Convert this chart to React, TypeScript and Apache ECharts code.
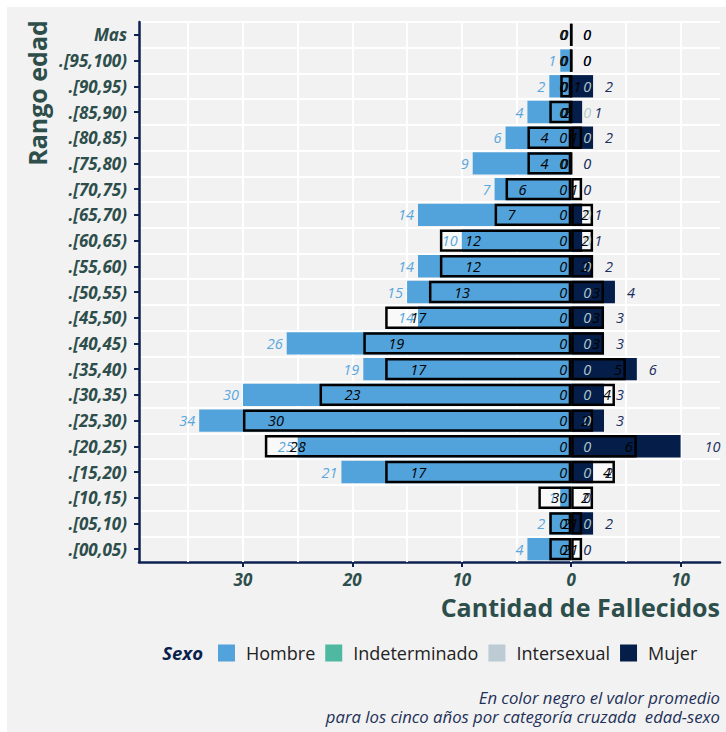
import React, { useEffect, useRef } from "react";
import * as echarts from "echarts";

// Categories from bottom to top
const categories = [
  ".[00,05)", ".[05,10)", ".[10,15)", ".[15,20)", ".[20,25)", ".[25,30)", ".[30,35)",
  ".[35,40)", ".[40,45)", ".[45,50)", ".[50,55)", ".[55,60)", ".[60,65)", ".[65,70)",
  ".[70,75)", ".[75,80)", ".[80,85)", ".[85,90)", ".[90,95)", ".[95,100)", "Mas",
];
const hombre = [4, 2, 1, 21, 25, 34, 30, 19, 26, 14, 15, 14, 10, 14, 7, 9, 6, 4, 2, 1, 0];
const hombrePromedio = [2, 2, 3, 17, 28, 30, 23, 17, 19, 17, 13, 12, 12, 7, 6, 4, 4, 2, 1, 0, 0];
const mujer = [0, 2, 0, 2, 10, 3, 3, 6, 3, 3, 4, 2, 1, 1, 0, 0, 2, 1, 2, 0, 0];
const mujerPromedio = [1, 1, 2, 4, 6, 2, 4, 5, 3, 3, 3, 2, 2, 2, 1, 0, 1, 0, 0, 0, 0];
const indeterminado = [0, 0, 0, 0, 0, 0, 0, 0, 0, 0, 0, 0, 0, 0, 0, 0, 0, 0, 0, 0, 0];
const intersexual = [0, 0, 0, 0, 0, 0, 0, 0, 0, 0, 0, 0, 0, 0, 0, 0, 0, 0, 0, 0, 0];
const intersexualPromedio = [0, 0, 0, 0, 0, 0, 0, 0, 0, 0, 0, 0, 0, 0, 0, 0, 0, 0, 0, 0, 0];

const legendNames = ["Hombre", "Indeterminado", "Intersexual", "Mujer"];
const xTickValues = [-30, -20, -10, 0, 10];
const xGridValues = [-35, -30, -25, -20, -15, -10, -5, 0, 5, 10];
const X_MIN = -39.5;
const X_MAX = 13.6;

const C_HOMBRE = "#52a3db";
const C_INDET = "#4fb8a0";
const C_INTER = "#bccbd4";
const C_MUJER = "#041e49";
const C_AXIS = "#0d2150";
const C_TEXT = "#2d4e4b";
const FONT = "'Open Sans', Roboto, sans-serif";

const labelBase = {
  show: true,
  fontSize: 14.5,
  fontStyle: "italic" as const,
  fontFamily: FONT,
};

const absFmt = (p: any) => String(Math.abs(typeof p.value === "object" ? p.value.value : p.value));

export default function App() {
  const ref = useRef<HTMLDivElement>(null);

  useEffect(() => {
    if (!ref.current) return;
    const chart = echarts.init(ref.current, undefined, { renderer: "svg" });

    const common = {
      type: "bar" as const,
      barWidth: "87%",
      barGap: "-100%",
      animation: false,
    };

    const option: any = {
      animation: false,
      backgroundColor: "#f2f2f2",
      grid: { left: 132, right: 6, top: 15, bottom: 170, containLabel: false },
      legend: {
        data: legendNames,
        left: 206,
        top: 632,
        icon: "rect",
        itemWidth: 17,
        itemHeight: 17,
        itemGap: 10,
        selectedMode: false,
        textStyle: {
          fontSize: 18,
          color: "#222",
          fontFamily: FONT,
          padding: [0, 0, 0, 6],
        },
      },
      xAxis: {
        type: "value",
        min: X_MIN,
        max: X_MAX,
        splitLine: { show: false },
        axisLine: { show: true, onZero: false, lineStyle: { color: C_AXIS, width: 2.5 } },
        axisTick: {
          show: true,
          customValues: xTickValues,
          length: 5,
          lineStyle: { color: C_AXIS, width: 2 },
        },
        axisLabel: {
          customValues: xTickValues,
          formatter: (v: number) => String(Math.abs(v)),
          fontSize: 17,
          fontWeight: "bold",
          fontStyle: "italic",
          fontFamily: FONT,
          color: C_TEXT,
          margin: 9,
        },
      },
      yAxis: {
        type: "category",
        data: categories,
        boundaryGap: true,
        axisLine: { show: true, onZero: false, lineStyle: { color: C_AXIS, width: 2.5 } },
        axisTick: { show: true, length: 5, alignWithLabel: true, lineStyle: { color: C_AXIS, width: 2 } },
        axisLabel: {
          fontSize: 17,
          fontWeight: "bold",
          fontStyle: "italic",
          fontFamily: FONT,
          color: C_TEXT,
          margin: 12,
        },
        splitLine: { show: true, lineStyle: { color: "#ffffff", width: 2 } },
      },
      series: [
        {
          ...common,
          name: "fondoPromH",
          silent: true,
          data: hombrePromedio.map((v) => -v),
          itemStyle: { color: "rgba(255,255,255,0.55)" },
          markLine: {
            silent: true,
            z: 1,
            symbol: ["none", "none"],
            label: { show: false },
            animation: false,
            lineStyle: { color: "#ffffff", width: 2, type: "solid" },
            data: xGridValues.map((v) => ({ xAxis: v })),
          },
        },
        {
          ...common,
          name: "fondoPromM",
          silent: true,
          data: mujerPromedio,
          itemStyle: { color: "rgba(255,255,255,0.55)" },
        },
        {
          ...common,
          name: "Hombre",
          data: hombre.map((v) => -v),
          itemStyle: { color: C_HOMBRE },
          label: { ...labelBase, position: "left", distance: 4, color: "#5aa7de", formatter: absFmt },
        },
        {
          ...common,
          name: "Indeterminado",
          data: indeterminado,
          itemStyle: { color: C_INDET },
        },
        {
          ...common,
          name: "Intersexual",
          data: intersexual,
          itemStyle: { color: C_INTER },
          label: { ...labelBase, position: "right", distance: 12, color: "#b2c9ce", formatter: absFmt },
        },
        {
          ...common,
          name: "Mujer",
          data: mujer.map((v) => ({ value: v, label: { distance: v >= 10 ? 24 : 12 } })),
          itemStyle: { color: C_MUJER },
          label: { ...labelBase, position: "right", color: "#1b2e5e", formatter: absFmt },
        },
        {
          ...common,
          name: "bordePromH",
          silent: true,
          data: hombrePromedio.map((v) => ({ value: -v, label: { distance: v >= 10 ? 25 : 13 } })),
          itemStyle: { color: "rgba(0,0,0,0)", borderColor: "#000", borderWidth: 2.5 },
          label: { ...labelBase, position: "insideLeft", color: "#000", formatter: absFmt },
        },
        {
          ...common,
          name: "bordePromM",
          silent: true,
          data: mujerPromedio,
          itemStyle: { color: "rgba(0,0,0,0)", borderColor: "#000", borderWidth: 2.5 },
          label: { ...labelBase, position: "insideRight", distance: 4, color: "#000", formatter: absFmt },
        },
        {
          ...common,
          name: "promInter",
          silent: true,
          data: intersexualPromedio,
          itemStyle: { color: "rgba(0,0,0,0)" },
          label: { ...labelBase, position: "insideRight", distance: 4, color: "#000", formatter: absFmt },
        },
      ],
      graphic: [
        {
          type: "text",
          x: 30,
          y: 86,
          rotation: Math.PI / 2,
          style: {
            text: "Rango edad",
            fontSize: 25,
            fontWeight: "bold",
            fontFamily: FONT,
            fill: C_TEXT,
            textAlign: "center",
            textVerticalAlign: "middle",
          },
        },
        {
          type: "text",
          x: 713,
          y: 600,
          style: {
            text: "Cantidad de Fallecidos",
            fontSize: 25,
            fontWeight: "bold",
            fontFamily: FONT,
            fill: C_TEXT,
            textAlign: "right",
            textVerticalAlign: "middle",
          },
        },
        {
          type: "text",
          x: 196,
          y: 645,
          style: {
            text: "Sexo",
            fontSize: 18.5,
            fontWeight: "bold",
            fontStyle: "italic",
            fontFamily: FONT,
            fill: "#0b1f4d",
            textAlign: "right",
            textVerticalAlign: "middle",
          },
        },
        {
          type: "text",
          x: 713,
          y: 690,
          style: {
            text: "En color negro el valor promedio",
            fontSize: 16.7,
            fontStyle: "italic",
            fontFamily: FONT,
            fill: "#233058",
            textAlign: "right",
            textVerticalAlign: "middle",
          },
        },
        {
          type: "text",
          x: 713,
          y: 709,
          style: {
            text: "para los cinco años por categoría cruzada  edad-sexo",
            fontSize: 16.7,
            fontStyle: "italic",
            fontFamily: FONT,
            fill: "#233058",
            textAlign: "right",
            textVerticalAlign: "middle",
          },
        },
      ],
    };

    chart.setOption(option);
    return () => {
      chart.dispose();
    };
  }, []);

  return (
    <div
      ref={ref}
      style={{ position: "fixed", left: 7, top: 7, width: 719, height: 725 }}
    />
  );
}
